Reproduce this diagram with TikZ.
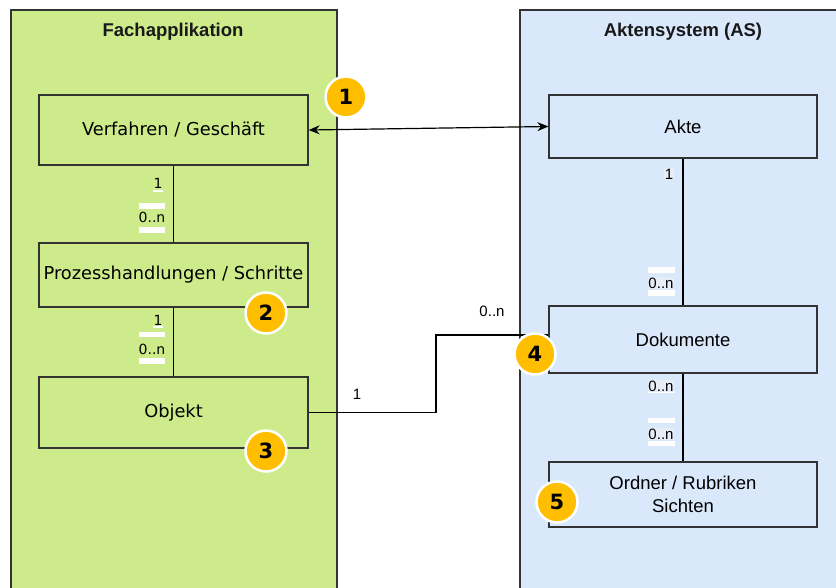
\documentclass[tikz,border=0pt]{standalone}
\usepackage{fontspec}
\setmainfont{Liberation Sans}
\newfontfamily\tahomaish{DejaVu Sans}
\usetikzlibrary{arrows.meta}
\definecolor{appgreen}{HTML}{CDEB8B}
\definecolor{asblue}{HTML}{DAE8FC}
\definecolor{edgegray}{HTML}{333333}
\definecolor{badgeyellow}{HTML}{FFBF00}
\definecolor{labelbg}{HTML}{E6EDF6}
\tikzset{
  container/.style={draw=edgegray, line width=2.2pt},
  ctitle/.style={font=\fontsize{18.5}{20}\selectfont\bfseries, text=black!90},
  leftbox/.style={draw=edgegray, line width=1.3pt, fill=appgreen, inner sep=0pt,
    minimum width=269pt, font=\tahomaish\fontsize{17.8}{20}\selectfont},
  rightbox/.style={draw=edgegray, line width=1.3pt, fill=asblue, inner sep=0pt,
    minimum width=268pt, font=\fontsize{18.5}{23}\selectfont, align=center},
  link/.style={draw=black, line width=1.2pt},
  card/.style={inner sep=0pt, font=\tahomaish\fontsize{14}{15}\selectfont},
  cardr/.style={inner sep=0.5pt, font=\fontsize{15}{16}\selectfont},
  bar/.style={fill=white, draw=none},
  badge/.style={circle, fill=badgeyellow, draw=white, line width=2.5pt,
    minimum size=41pt, inner sep=0pt, font=\tahomaish\bfseries\fontsize{21}{22}\selectfont}
}
\begin{document}
\begin{tikzpicture}[x=1pt,y=-1pt]
\useasboundingbox (0,0) rectangle (836,587);
\fill[white] (0,0) rectangle (836,587);
\begin{scope}
\clip (0,0) rectangle (836,587);
% application and records system areas
\draw[container, fill=appgreen] (11,10) rectangle (337,610);
\draw[container, fill=asblue] (520,10) rectangle (860,610);
\end{scope}
\node[ctitle] (ttl) at (173,32) {Fachapplikation};
\node[ctitle] (ttr) at (683,32) {Aktensystem (AS)};

% entities of the application
\node[leftbox, minimum height=70pt] (verf) at (173.5,130) {Verfahren / Geschäft};
\node[leftbox, minimum height=64pt] (proz) at (173.5,275) {Prozesshandlungen / Schritte};
\node[leftbox, minimum height=71pt] (obj) at (173.5,412.5) {Objekt};

% entities of the records system
\node[rightbox, minimum height=63pt] (akte) at (683,126.5) {Akte};
\node[rightbox, minimum height=67pt] (dok) at (683,339.5) {Dokumente};
\node[rightbox, minimum height=65pt] (ord) at (683,494.5) {Ordner / Rubriken\\Sichten};

% relations
\draw[link] (verf.south) -- (proz.north);
\draw[link] (proz.south) -- (obj.north);
\draw[link] (akte.south) -- (dok.north);
\draw[link] (dok.south) -- (ord.north);
\draw[link, {Stealth[length=11pt,width=9pt]}-{Stealth[length=11pt,width=9pt]}] (verf.east) -- (akte.west);
\coordinate (bend) at (436,335);
\draw[link] (obj.east) -| (bend) -- (bend -| dok.west);

% cardinalities
\fill[bar] (139,203) rectangle (165,209);
\fill[bar] (139,227) rectangle (165,233);
\fill[bar] (153,190) rectangle (163,192);
\node[card] (c1) at (158,183) {1};
\node[card] (c2) at (152,217) {0..n};
\fill[bar] (139,332) rectangle (165,337);
\fill[bar] (139,358) rectangle (165,364);
\fill[bar] (153,326) rectangle (163,328);
\node[card] (c3) at (158,320) {1};
\node[card] (c4) at (152,349) {0..n};
\node[cardr, fill=labelbg] (c5) at (669,174) {1};
\fill[bar] (648,267) rectangle (675,273);
\fill[bar] (648,290) rectangle (675,296);
\node[cardr, fill=labelbg] (c6) at (661,283) {0..n};
\fill[bar] (648,391) rectangle (675,393);
\node[cardr, fill=labelbg] (c7) at (661,386) {0..n};
\fill[bar] (648,418) rectangle (675,423);
\fill[bar] (648,441) rectangle (675,446);
\node[cardr, fill=labelbg] (c8) at (661,434) {0..n};
\node[cardr] (c9) at (492,311) {0..n};
\node[cardr] (c10) at (357,394) {1};

% numbered markers
\node[badge] (b1) at (346,97) {1};
\node[badge] (b2) at (266,313) {2};
\node[badge] (b3) at (266,451) {3};
\node[badge] (b4) at (535,354) {4};
\node[badge] (b5) at (557,502) {5};
\end{tikzpicture}
\end{document}
